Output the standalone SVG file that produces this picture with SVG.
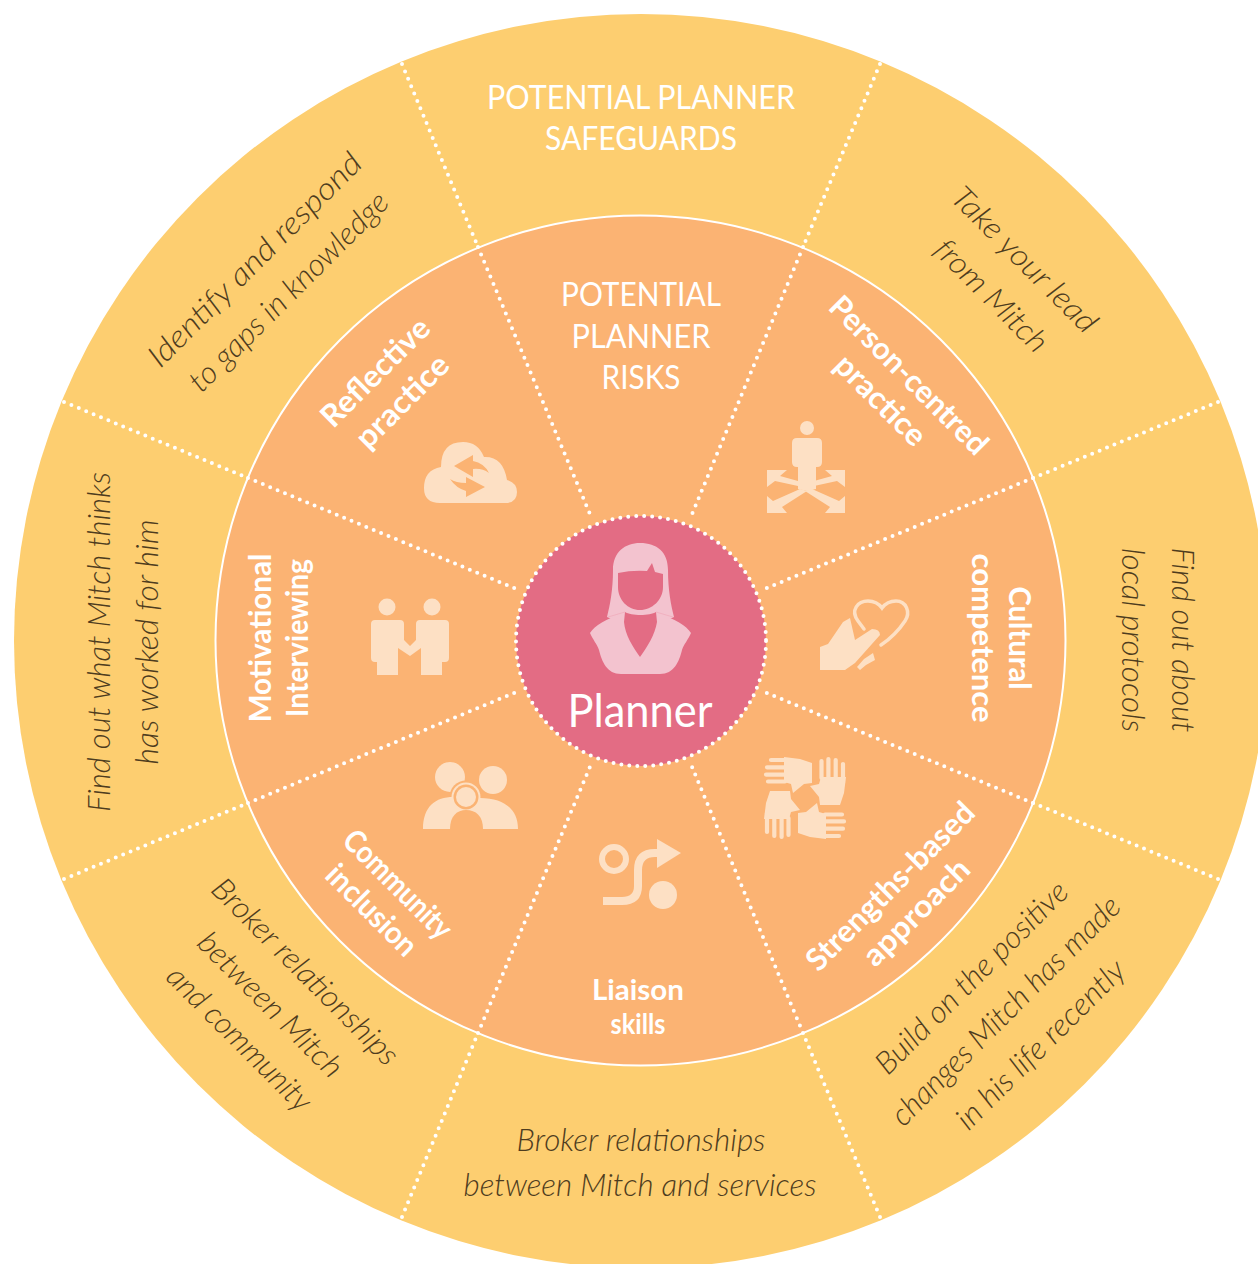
<svg xmlns="http://www.w3.org/2000/svg" width="1258" height="1264" viewBox="0 0 1258 1264">
<style>
.cap{font-family:"Lato","Liberation Sans",sans-serif;font-size:32px;fill:#fff;text-anchor:middle;font-weight:400}
.sub{font-family:"Lato","Liberation Sans",sans-serif;font-size:31px;fill:#fff;text-anchor:middle;font-weight:700}
.hand{font-family:"Lato","Liberation Sans",sans-serif;font-size:31px;fill:#4E3C1E;text-anchor:middle;font-style:italic;font-weight:300}
.dot{stroke:#fff;stroke-width:4;stroke-linecap:round;stroke-dasharray:0 8;fill:none}
.ic{fill:#FDE0C4}
.bg{fill:#FBB373}
</style>
<defs>
<g id="hand"><path d="M784 757L800 759L812 763V783L804 784L793 793L791 784L784 782Z"/><path d="M771 760H790M767 767.300H785M766 774.600H785M768 781.500H785" stroke="#FDE0C4" stroke-width="4.200" stroke-linecap="round"/></g>
<path id="pc-arrows" d="M767 470H787L780 476L798 481V486L775 481L767 487ZM767 513V496L773 501L800 489L807 491L782 507L787 513Z"/>
</defs>
<g id="rings">
<circle cx="641" cy="641" r="627" fill="#FDCE70"/>
<circle cx="640.500" cy="640.500" r="425" fill="#FBB373" stroke="#fff" stroke-width="2"/>
</g>
<g id="connectors">
<path class="dot" d="M402 64L478 247M880 64L803 247M1218 402L1033 478M1218 879L1033 803M880 1217L803 1033M402 1217L478 1033M64 879L248 803M64 402L248 478"/>
<path class="dot" d="M478 247L592 519M803 247L690 519M1033 478L762 590M1033 803L762 691M803 1033L690 762M478 1033L592 762M248 803L519 691M248 478L519 590"/>
</g>
<g id="outer-top"><text class="cap" x="641" y="109" textLength="308" lengthAdjust="spacingAndGlyphs">POTENTIAL PLANNER</text><text class="cap" x="641" y="150" textLength="192" lengthAdjust="spacingAndGlyphs">SAFEGUARDS</text></g>
<g id="outer-tr"><text class="hand" transform="translate(1024 260) rotate(45)" y="10" textLength="192" lengthAdjust="spacingAndGlyphs">Take your lead</text><text class="hand" transform="translate(991 296) rotate(45)" y="10" textLength="146" lengthAdjust="spacingAndGlyphs">from Mitch</text></g>
<g id="outer-r"><text class="hand" transform="translate(1182 640) rotate(90)" y="10" textLength="185" lengthAdjust="spacingAndGlyphs">Find out about</text><text class="hand" transform="translate(1132 640) rotate(90)" y="10" textLength="184" lengthAdjust="spacingAndGlyphs">local protocols</text></g>
<g id="outer-br"><text class="hand" transform="translate(972 978) rotate(-45)" y="10" textLength="258" lengthAdjust="spacingAndGlyphs">Build on the positive</text><text class="hand" transform="translate(1006 1011) rotate(-45)" y="10" textLength="310" lengthAdjust="spacingAndGlyphs">changes Mitch has made</text><text class="hand" transform="translate(1041 1045) rotate(-45)" y="10" textLength="225" lengthAdjust="spacingAndGlyphs">in his life recently</text></g>
<g id="outer-b"><text class="hand" x="641" y="1151" textLength="249" lengthAdjust="spacingAndGlyphs">Broker relationships</text><text class="hand" x="640" y="1196" textLength="353" lengthAdjust="spacingAndGlyphs">between Mitch and services</text></g>
<g id="outer-bl"><text class="hand" transform="translate(305 972) rotate(45)" y="10" textLength="250" lengthAdjust="spacingAndGlyphs">Broker relationships</text><text class="hand" transform="translate(270 1005) rotate(45)" y="10" textLength="191" lengthAdjust="spacingAndGlyphs">between Mitch</text><text class="hand" transform="translate(239 1039) rotate(45)" y="10" textLength="191" lengthAdjust="spacingAndGlyphs">and community</text></g>
<g id="outer-l"><text class="hand" transform="translate(100 642) rotate(-90)" y="10" textLength="340" lengthAdjust="spacingAndGlyphs">Find out what Mitch thinks</text><text class="hand" transform="translate(148 642) rotate(-90)" y="10" textLength="245" lengthAdjust="spacingAndGlyphs">has worked for him</text></g>
<g id="outer-tl"><text class="hand" transform="translate(255 260) rotate(-45)" y="10" textLength="288" lengthAdjust="spacingAndGlyphs">Identify and respond</text><text class="hand" transform="translate(289 292) rotate(-45)" y="10" textLength="268" lengthAdjust="spacingAndGlyphs">to gaps in knowledge</text></g>
<g id="risks"><text class="cap" x="641" y="306" textLength="160" lengthAdjust="spacingAndGlyphs">POTENTIAL</text><text class="cap" x="641" y="348" textLength="139" lengthAdjust="spacingAndGlyphs">PLANNER</text><text class="cap" x="641" y="389" textLength="79" lengthAdjust="spacingAndGlyphs">RISKS</text></g>
<g id="person-centred">
<text class="sub" transform="translate(909 375) rotate(45)" y="11" textLength="210" lengthAdjust="spacingAndGlyphs">Person-centred</text><text class="sub" transform="translate(881 400) rotate(45)" y="11" textLength="115" lengthAdjust="spacingAndGlyphs">practice</text>
<g class="ic"><circle cx="807" cy="428" r="7"/><path d="M797 438H817Q822 438 822 443V462Q822 467 817 467H816V489L807 491L798 489V467H797Q792 467 792 462V443Q792 438 797 438Z"/><use href="#pc-arrows"/><use href="#pc-arrows" transform="translate(1612 0) scale(-1 1)"/></g>
</g>
<g id="cultural">
<text class="sub" transform="translate(1020 638) rotate(90)" y="11" textLength="103" lengthAdjust="spacingAndGlyphs">Cultural</text><text class="sub" transform="translate(983 638) rotate(90)" y="11" textLength="169" lengthAdjust="spacingAndGlyphs">competence</text>
<g class="ic"><path d="M820 670V647L828 644L843 622L850 618L855 640L872 629Q880 629 880 635L855 663L845 670Z"/><path d="M857 667L864 659L873 653L875 660L866 665L860 670Z"/></g>
<path d="M864 629L858 621C850 610 858 601 868 601C874 601 879 604 882 608C885 604 890 601 896 601C906 601 911 612 905 621C899 630 890 639 881 645" fill="none" stroke="#FDE0C4" stroke-width="3.500" stroke-linecap="round"/>
</g>
<g id="strengths">
<text class="sub" transform="translate(890 886) rotate(-45)" y="11" textLength="224" lengthAdjust="spacingAndGlyphs">Strengths-based</text><text class="sub" transform="translate(916 912) rotate(-45)" y="11" textLength="137" lengthAdjust="spacingAndGlyphs">approach</text>
<g class="ic"><use href="#hand"/><use href="#hand" transform="rotate(90 805 798)"/><use href="#hand" transform="rotate(180 805 798)"/><use href="#hand" transform="rotate(270 805 798)"/></g>
</g>
<g id="liaison">
<text class="sub" x="638" y="1000" style="font-size:28px" textLength="92" lengthAdjust="spacingAndGlyphs">Liaison</text><text class="sub" x="638" y="1034" style="font-size:28px" textLength="55" lengthAdjust="spacingAndGlyphs">skills</text>
<circle cx="614" cy="859" r="12" fill="none" stroke="#FDE0C4" stroke-width="6"/><circle class="ic" cx="663" cy="895" r="14"/>
<path d="M603 901H622Q638 901 638 886V870Q638 853 655 853H660" fill="none" stroke="#FDE0C4" stroke-width="8"/>
<path class="ic" d="M681 853L657 839V868Z"/>
</g>
<g id="community">
<text class="sub" transform="translate(398 884) rotate(45)" y="11" textLength="140" lengthAdjust="spacingAndGlyphs">Community</text><text class="sub" transform="translate(372 910) rotate(45)" y="11" textLength="115" lengthAdjust="spacingAndGlyphs">inclusion</text>
<circle class="ic" cx="450" cy="777" r="15"/><circle class="ic" cx="493" cy="780" r="14"/>
<circle class="bg" cx="466" cy="797" r="16.500"/><circle class="ic" cx="466" cy="797" r="14.500"/>
<path class="ic" d="M423 829C423 805 437 796 456 797L480 798C505 798 518 810 518 829Z"/>
<circle class="bg" cx="466" cy="797" r="12.500"/><circle class="ic" cx="466" cy="797" r="10"/>
<path class="bg" d="M450 829C450 816 457 810 466 810C476 810 483 816 483 829Z"/>
</g>
<g id="motivational">
<text class="sub" transform="translate(260 638) rotate(-90)" y="11" textLength="169" lengthAdjust="spacingAndGlyphs">Motivational</text><text class="sub" transform="translate(297 638) rotate(-90)" y="11" textLength="158" lengthAdjust="spacingAndGlyphs">Interviewing</text>
<g class="ic"><circle cx="387" cy="607" r="8.500"/><circle cx="432" cy="607" r="8.500"/>
<path d="M375 620H400Q404 620 404 624V640L410 646L416 640V624Q416 620 420 620H445Q449 620 449 624V658Q449 662 445 662H442V675H421V648L410 656L398 648V675H377V662H375Q371 662 371 658V624Q371 620 375 620Z"/></g>
</g>
<g id="reflective">
<text class="sub" transform="translate(375 372) rotate(-45)" y="11" textLength="140" lengthAdjust="spacingAndGlyphs">Reflective</text><text class="sub" transform="translate(402 401) rotate(-45)" y="11" textLength="118" lengthAdjust="spacingAndGlyphs">practice</text>
<path class="ic" d="M440 503Q424 503 424 488Q424 470 441 467Q441 442 463 442Q478 442 484 457Q503 456 507 480Q517 483 517 492Q517 503 505 503Z"/>
<path class="bg" d="M454 466L473 455V461Q484 463 489 473Q482 468 473 469V477ZM485 487L466 477V483Q456 483 450 479Q456 488 466 491V497Z"/>
</g>
<g id="planner">
<circle cx="641" cy="641" r="125" fill="#E36C84"/>
<circle class="dot" cx="641" cy="641" r="125"/>
<path fill="#F3C3CF" d="M607 617C610 605 613 590 613 570C613 552 625 543 640 543C657 543 668 552 668 570C668 590 671 605 674 617L656 625H625Z"/>
<path fill="#F3C3CF" d="M590 633C595 625 605 620 625 612H656C676 620 686 625 691 633C688 640 684 644 682 650C679 662 674 674 660 674H621C607 674 602 662 599 650C597 644 593 640 590 633Z"/>
<path fill="#E36C84" d="M618 573Q632 570 647 571L652 563L655 572L663 574V587C663 600 652 610 640 610C628 610 618 600 618 587ZM625 612C631 616 650 616 656 612L657 622C655 635 647 647 640 657C633 647 625 635 624 622Z"/>
<path d="M608 617L625 612M656 612L673 617" stroke="#EFA9B9" stroke-width=".7" fill="none"/>
<text x="640" y="727" style="font-family:Lato,'Liberation Sans',sans-serif;font-size:46px;fill:#fff;text-anchor:middle" textLength="145" lengthAdjust="spacingAndGlyphs">Planner</text>
</g>
</svg>
